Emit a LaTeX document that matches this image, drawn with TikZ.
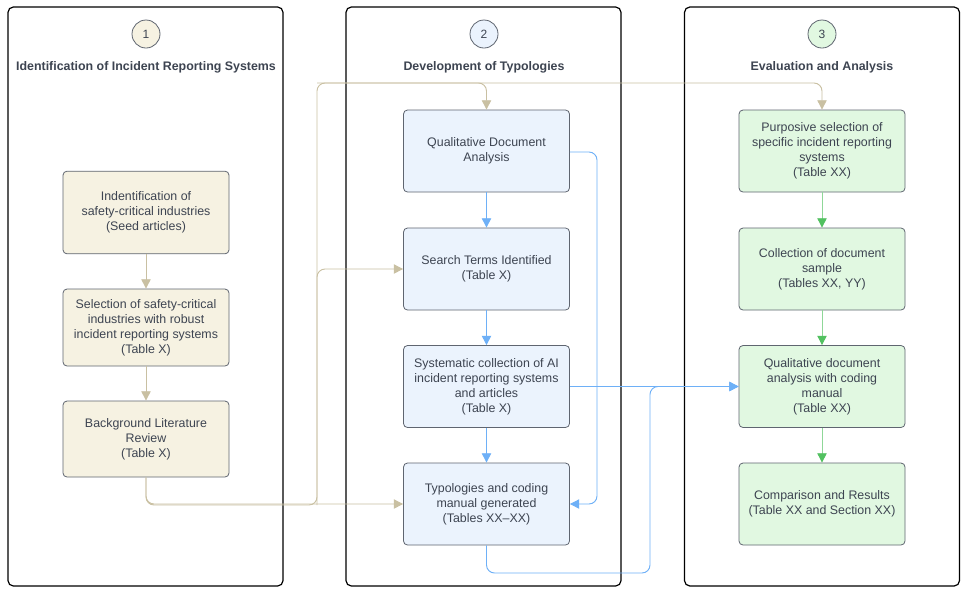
\documentclass[tikz,border=0pt]{standalone}
\usepackage{fontspec}
\setmainfont{Liberation Sans}
\usepackage{tikz}
\usetikzlibrary{arrows.meta,positioning}
\definecolor{creamfill}{HTML}{F6F2E2}
\definecolor{creamline}{HTML}{C9C0A2}
\definecolor{bluefill}{HTML}{EBF3FD}
\definecolor{blueline}{HTML}{6EB0F7}
\definecolor{greenfill}{HTML}{E1F8E1}
\definecolor{greenline}{HTML}{52C160}
\definecolor{boxedge}{HTML}{5F6570}
\definecolor{inktext}{HTML}{3D4451}
\tikzset{
  lane-frame/.style={draw=black, fill=white, rounded corners=4pt, line width=0.9pt,
    minimum width=206.25pt, minimum height=434.25pt, inner sep=0pt},
  lane-number/.style={circle, draw=boxedge, line width=0.6pt, minimum size=21pt, inner sep=0pt,
    font=\fontsize{9}{11}\selectfont, text=inktext},
  lane-title/.style={font=\fontsize{9.3}{11}\selectfont\bfseries, text=inktext},
  step-box/.style={draw=boxedge, rounded corners=3pt, line width=0.6pt, align=center,
    minimum width=124.5pt, minimum height=61.5pt, inner sep=2pt,
    font=\fontsize{9.3}{11.3}\selectfont, text=inktext},
  cream-box/.style={step-box, fill=creamfill},
  blue-box/.style={step-box, fill=bluefill},
  green-box/.style={step-box, fill=greenfill},
  flow-link/.style={line width=0.7pt, rounded corners=6pt,
    -{Triangle[length=7pt,width=7pt]}},
  cream-link/.style={flow-link, draw=creamline},
  blue-link/.style={flow-link, draw=blueline},
  green-link/.style={flow-link, draw=greenline!65,
    -{Triangle[length=7pt,width=7pt,color=greenline,fill=greenline]}}
}
\begin{document}
\begin{tikzpicture}[x=0.75pt, y=-0.75pt]
  \useasboundingbox (0,0) rectangle (967,594);

  % Three lanes
  \node[lane-frame] (lane1) at (145.5,296.5) {};
  \node[lane-frame] (lane2) at (483.5,296.5) {};
  \node[lane-frame] (lane3) at (822,296.5) {};

  % Lane numbers and titles
  \node[lane-number, fill=creamfill] (num1) at (146,34) {1};
  \node[lane-number, fill=bluefill] (num2) at (484,34) {2};
  \node[lane-number, fill=greenfill] (num3) at (822,34) {3};
  \node[lane-title] (title1) at (146,67) {Identification of Incident Reporting Systems};
  \node[lane-title] (title2) at (484,67) {Development of Typologies};
  \node[lane-title] (title3) at (822,67) {Evaluation and Analysis};

  % Lane 1 steps
  \node[cream-box, minimum height=62pt] (seed) at (146,212.5)
    {Indentification of\\safety-critical industries\\(Seed articles)};
  \node[cream-box, minimum height=57.75pt] (robust) at (146,327.5)
    {Selection of safety-critical\\industries with robust\\incident reporting systems\\(Table X)};
  \node[cream-box, minimum height=57pt] (lit) at (146,439)
    {Background Literature\\Review\\(Table X)};

  % Lane 2 steps
  \node[blue-box] (qda) at (486.5,151) {Qualitative Document\\Analysis};
  \node[blue-box] (search) at (486.5,269) {Search Terms Identified\\(Table X)};
  \node[blue-box] (collect) at (486.5,386.5)
    {Systematic collection of AI\\incident reporting systems\\and articles\\(Table X)};
  \node[blue-box] (typ) at (486.5,504)
    {Typologies and coding\\manual generated\\(Tables XX--XX)};

  % Lane 3 steps
  \node[green-box] (purp) at (822,151)
    {Purposive selection of\\specific incident reporting\\systems\\(Table XX)};
  \node[green-box] (sample) at (822,269)
    {Collection of document\\sample\\(Tables XX, YY)};
  \node[green-box] (coding) at (822,386.5)
    {Qualitative document\\analysis with coding\\manual\\(Table XX)};
  \node[green-box] (results) at (822,504)
    {Comparison and Results\\(Table XX and Section XX)};

  % Cream connectors
  \draw[cream-link] (seed) -- (robust);
  \draw[cream-link] (robust) -- (lit);
  \coordinate (cream-split) at (317,505);
  \coordinate (cream-top) at (317,83);
  \draw[cream-link] (lit.south) |- (typ.west);
  \draw[cream-link] (lit.south) |- (cream-split) -- (cream-top) -| (purp.north);
  \draw[cream-link] (cream-split) |- (search.west);
  \draw[cream-link] (cream-top) -| (qda.north);

  % Blue connectors
  \draw[blue-link] (qda) -- (search);
  \draw[blue-link] (search) -- (collect);
  \draw[blue-link] (collect) -- (typ);
  \coordinate (blue-right) at (597,152);
  \draw[blue-link] (qda.east |- blue-right) -- (blue-right) |- (typ.east);
  \draw[blue-link] (collect.east) -- (coding.west);
  \coordinate (blue-low) at (650,573);
  \draw[blue-link] (typ.south) |- (blue-low) |- (coding.west);

  % Green connectors
  \draw[green-link] (purp) -- (sample);
  \draw[green-link] (sample) -- (coding);
  \draw[green-link] (coding) -- (results);
\end{tikzpicture}
\end{document}
